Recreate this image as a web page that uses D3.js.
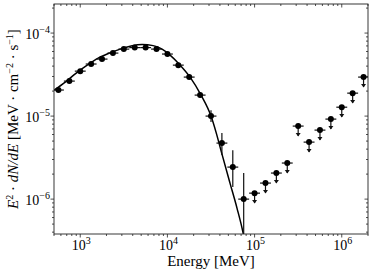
<!DOCTYPE html>
<html>
<head>
<meta charset="utf-8">
<script src="https://cdn.jsdelivr.net/npm/d3@7.9.0/dist/d3.min.js"></script>
<style>
  body { margin: 0; background: #fff; }
  svg { display: block; }
</style>
</head>
<body>
<svg id="chart" width="374" height="273"></svg>
<script>
// spectral points, bin centres in MeV (8 bins per decade)
const energies = [562, 750, 1000, 1334, 1778, 2371, 3162, 4217, 5623, 7499,
  10000, 13335, 17783, 23714, 31623, 42170, 56234, 74989, 100000, 133352,
  177828, 237137, 316228, 421697, 562341, 749894, 1000000, 1333521, 1778279];
// bin edges (one more than the centres)
const binEdges = [487, 649, 866, 1155, 1540, 2054, 2738, 3652, 4870, 6494,
  8660, 11548, 15399, 20535, 27384, 36517, 48697, 64938, 86596, 115478,
  153993, 205353, 273842, 365174, 486968, 649382, 865964, 1154782, 1539927, 2053525];

// detections: E^2 dN/dE in MeV cm^-2 s^-1 (first 18 bins)
const fluxes = [2.06e-5, 2.64e-5, 3.48e-5, 4.24e-5, 4.86e-5, 5.74e-5, 6.41e-5, 6.68e-5, 6.68e-5, 6.41e-5,
  5.59e-5, 4.11e-5, 2.95e-5, 1.79e-5, 1.00e-5, 4.73e-6, 2.43e-6, 1.00e-6];
const errLow = [0.9e-6, 1.1e-6, 1.4e-6, 1.6e-6, 1.8e-6, 2.0e-6, 2.2e-6, 2.3e-6, 2.3e-6, 2.3e-6,
  2.1e-6, 1.8e-6, 1.5e-6, 1.3e-6, 1.53e-6, 1.34e-6, 1.03e-6, 0.98e-6];
const errHigh = [0.9e-6, 1.1e-6, 1.4e-6, 1.6e-6, 1.8e-6, 2.0e-6, 2.2e-6, 2.3e-6, 2.3e-6, 2.3e-6,
  2.1e-6, 1.8e-6, 1.5e-6, 1.4e-6, 1.8e-6, 1.51e-6, 1.46e-6, 1.06e-6];

// upper limits for the remaining 11 bins
const upperLimits = [1.18e-6, 1.56e-6, 2.06e-6, 2.72e-6, 7.58e-6, 4.86e-6, 6.78e-6,
  9.20e-6, 1.28e-5, 1.89e-5, 2.95e-5];

// fitted model curve
const modelEnergy = [504, 673, 900, 1202, 1607, 2148, 2871, 3837, 5129, 6855, 8690,
  10730, 13610, 18190, 24320, 31640, 36090, 42260, 52220, 62820, 73490, 80000];
const modelFlux = [2.06e-5, 2.57e-5, 3.30e-5, 4.11e-5, 5.00e-5, 5.74e-5, 6.41e-5, 6.97e-5, 7.26e-5, 7.06e-5, 6.41e-5,
  5.43e-5, 4.24e-5, 2.95e-5, 1.79e-5, 1.00e-5, 6.41e-6, 3.48e-6, 1.56e-6, 7.80e-7, 4.00e-7, 2.5e-7];

const xTickExp = ["3", "4", "5", "6"];
const yTickExp = ["−6", "−5", "−4"];

const serif = "serif";
const svg = d3.select("#chart").style("font-family", serif);
const plotLeft = 54, plotRight = 368, plotTop = 4, plotBottom = 234;

const x = d3.scaleLog().domain([500, 2.0e6]).range([plotLeft, plotRight]);
const y = d3.scaleLog().domain([3.8e-7, 2.24e-4]).range([plotBottom, plotTop]);

const isMajor = v => Math.abs(Math.log10(v) - Math.round(Math.log10(v))) < 1e-9;

svg.append("defs").append("clipPath").attr("id", "clip")
  .append("rect").attr("x", plotLeft).attr("y", plotTop)
  .attr("width", plotRight - plotLeft).attr("height", plotBottom - plotTop);

const plot = svg.append("g").attr("clip-path", "url(#clip)");

// model
const line = d3.line().x(d => x(d[0])).y(d => y(d[1])).curve(d3.curveMonotoneX);
plot.append("path")
  .datum(modelEnergy.map((e, i) => [e, modelFlux[i]]))
  .attr("d", line)
  .attr("fill", "none")
  .attr("stroke", "#000")
  .attr("stroke-width", 1.5);

const ink = "#111";

// detections
fluxes.forEach((f, i) => {
  const cx = x(energies[i]), cy = y(f);
  plot.append("line")
    .attr("x1", x(binEdges[i])).attr("x2", x(binEdges[i + 1]))
    .attr("y1", cy).attr("y2", cy)
    .attr("stroke", ink).attr("stroke-width", 1.2);
  plot.append("line")
    .attr("x1", cx).attr("x2", cx)
    .attr("y1", y(f + errHigh[i])).attr("y2", y(f - errLow[i]))
    .attr("stroke", ink).attr("stroke-width", 1.2);
  plot.append("circle").attr("cx", cx).attr("cy", cy).attr("r", 3).attr("fill", "#000");
});

// upper limits
upperLimits.forEach((u, j) => {
  const i = fluxes.length + j;
  const cx = x(energies[i]), cy = y(u);
  const tip = y(u * 0.76);
  plot.append("line")
    .attr("x1", x(binEdges[i])).attr("x2", x(binEdges[i + 1]))
    .attr("y1", cy).attr("y2", cy)
    .attr("stroke", ink).attr("stroke-width", 1.2);
  plot.append("line")
    .attr("x1", cx).attr("x2", cx)
    .attr("y1", cy).attr("y2", tip)
    .attr("stroke", ink).attr("stroke-width", 1.2);
  plot.append("path")
    .attr("d", `M${cx - 2.5},${tip - 3} L${cx + 2.5},${tip - 3} L${cx},${tip + 0.5} Z`)
    .attr("fill", ink);
  plot.append("circle").attr("cx", cx).attr("cy", cy).attr("r", 3).attr("fill", "#000");
});

// frame
svg.append("rect")
  .attr("x", plotLeft).attr("y", plotTop)
  .attr("width", plotRight - plotLeft).attr("height", plotBottom - plotTop)
  .attr("fill", "none").attr("stroke", "#222").attr("stroke-width", 0.9);

// ticks
const axes = svg.append("g").attr("stroke", "#222").attr("stroke-width", 0.8);
x.ticks().forEach(t => {
  const px = x(t), len = isMajor(t) ? 3.5 : 2;
  axes.append("line").attr("x1", px).attr("x2", px).attr("y1", plotBottom).attr("y2", plotBottom + len);
  axes.append("line").attr("x1", px).attr("x2", px).attr("y1", plotTop).attr("y2", plotTop + len);
});
y.ticks().forEach(t => {
  const py = y(t), len = isMajor(t) ? 3.5 : 2;
  axes.append("line").attr("x1", plotLeft - len).attr("x2", plotLeft).attr("y1", py).attr("y2", py);
  axes.append("line").attr("x1", plotRight - len).attr("x2", plotRight).attr("y1", py).attr("y2", py);
});

function powLabel(sel, exp) {
  sel.append("tspan").text("10");
  sel.append("tspan").attr("dy", -6).attr("font-size", 10).text(exp);
}

x.ticks().filter(isMajor).forEach((t, i) => {
  const txt = svg.append("text")
    .attr("x", x(t) + 1).attr("y", 250)
    .attr("text-anchor", "middle").attr("font-size", 14);
  powLabel(txt, xTickExp[i]);
});
y.ticks().filter(isMajor).forEach((t, i) => {
  const txt = svg.append("text")
    .attr("x", 50).attr("y", y(t) + 6)
    .attr("text-anchor", "end").attr("font-size", 14);
  powLabel(txt, yTickExp[i]);
});

// axis titles
svg.append("text")
  .attr("x", (plotLeft + plotRight) / 2).attr("y", 266)
  .attr("text-anchor", "middle").attr("font-size", 15)
  .text("Energy [MeV]");

const yl = svg.append("text")
  .attr("transform", `translate(18,${(plotTop + plotBottom) / 2}) rotate(-90)`)
  .attr("text-anchor", "middle").attr("font-size", 15);
yl.append("tspan").attr("font-style", "italic").text("E");
yl.append("tspan").attr("dy", -5).attr("font-size", 10).text("2");
yl.append("tspan").attr("dy", 5).text(" · ");
yl.append("tspan").attr("font-style", "italic").text("dN/dE");
yl.append("tspan").text(" [MeV · cm");
yl.append("tspan").attr("dy", -5).attr("font-size", 10).text("−2");
yl.append("tspan").attr("dy", 5).text(" · s");
yl.append("tspan").attr("dy", -5).attr("font-size", 10).text("−1");
yl.append("tspan").attr("dy", 5).text("]");
</script>
</body>
</html>
